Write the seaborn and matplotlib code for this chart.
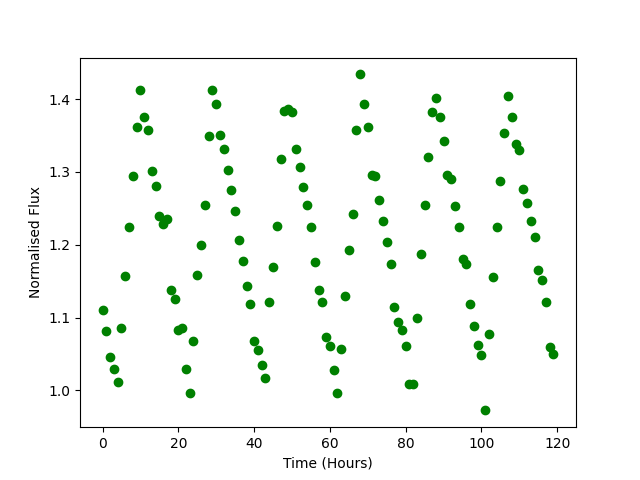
import numpy as np
import pandas as pd
import matplotlib
matplotlib.use("Agg")
import matplotlib.pyplot as plt
import seaborn as sns

# time in hours, one reading per hour
time_hours = list(range(120))

flux = [
    1.110, 1.081, 1.046, 1.030, 1.012, 1.085, 1.157, 1.224, 1.295, 1.362,
    1.413, 1.375, 1.357, 1.301, 1.281, 1.240, 1.228, 1.235, 1.138, 1.125,
    1.083, 1.086, 1.030, 0.997, 1.068, 1.159, 1.200, 1.254, 1.349, 1.412,
    1.393, 1.351, 1.332, 1.303, 1.275, 1.246, 1.207, 1.178, 1.143, 1.118,
    1.068, 1.055, 1.035, 1.017, 1.122, 1.170, 1.226, 1.318, 1.384, 1.387,
    1.382, 1.331, 1.307, 1.280, 1.254, 1.224, 1.176, 1.138, 1.122, 1.074,
    1.061, 1.028, 0.997, 1.057, 1.129, 1.193, 1.242, 1.357, 1.434, 1.393,
    1.362, 1.296, 1.295, 1.261, 1.233, 1.204, 1.174, 1.114, 1.094, 1.083,
    1.061, 1.009, 1.009, 1.099, 1.188, 1.254, 1.321, 1.382, 1.401, 1.375,
    1.342, 1.296, 1.291, 1.253, 1.224, 1.180, 1.174, 1.119, 1.088, 1.063,
    1.048, 0.9725, 1.078, 1.156, 1.225, 1.287, 1.353, 1.405, 1.375, 1.338,
    1.330, 1.276, 1.257, 1.232, 1.210, 1.166, 1.152, 1.122, 1.060, 1.050,
]

df = pd.DataFrame({"time": time_hours, "flux": flux})

fig, ax = plt.subplots(figsize=(6.4, 4.8), dpi=100)
sns.scatterplot(data=df, x="time", y="flux", color="green",
                edgecolor="green", linewidth=1, s=36, ax=ax)

ax.set_xlabel("Time (Hours)")
ax.set_ylabel("Normalised Flux")

plt.savefig("out.png", dpi=100)
plt.close()
